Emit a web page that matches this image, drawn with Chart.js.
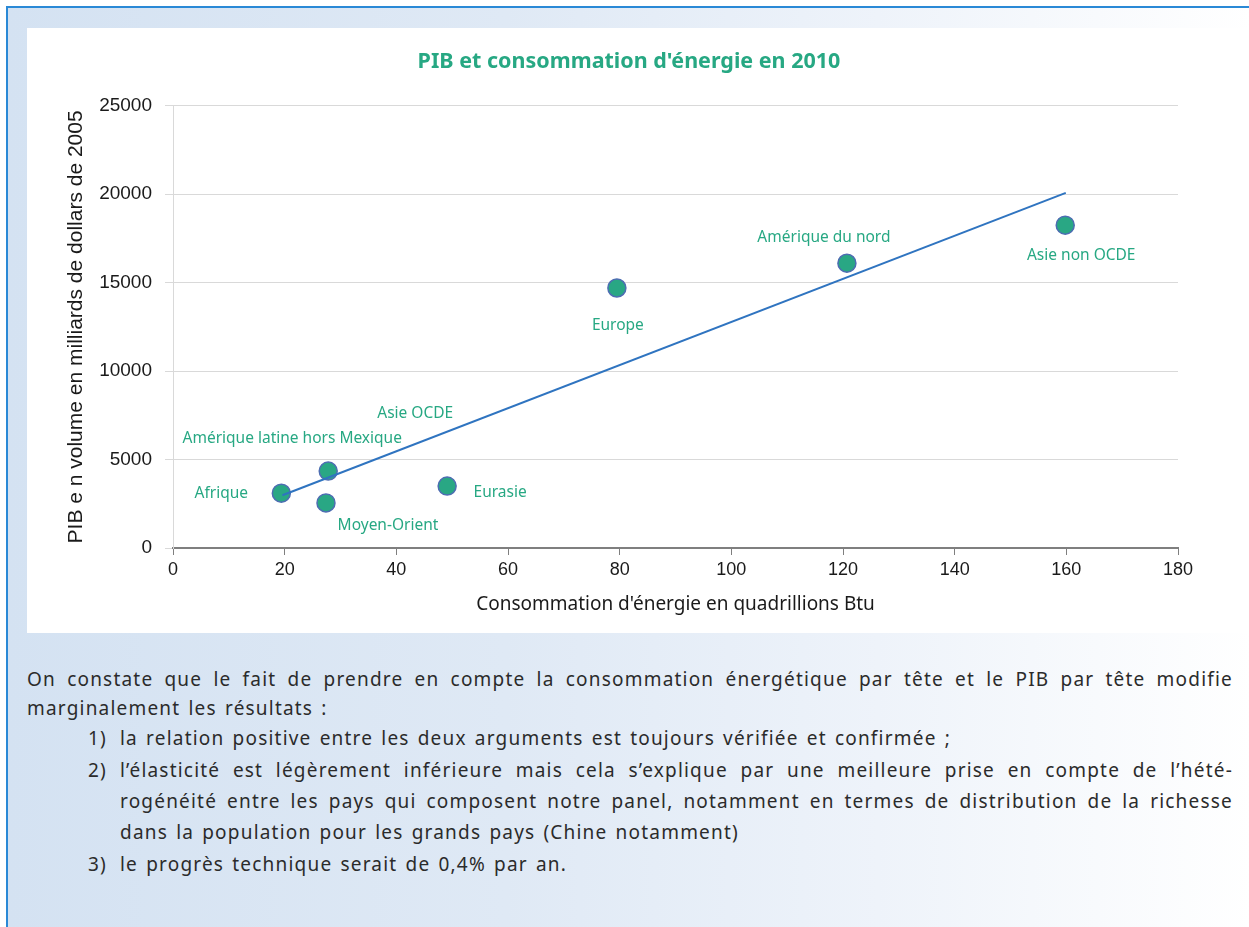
<!DOCTYPE html>
<html>
<head>
<meta charset="utf-8">
<script src="https://cdn.jsdelivr.net/npm/chart.js@4.4.0/dist/chart.umd.min.js"></script>
<style>
  html, body { margin: 0; padding: 0; background: #fff; width: 1249px; height: 927px; overflow: hidden; }
  #frame {
    position: absolute; left: 6px; top: 6px; width: 1243px; height: 921px;
    border-left: 2px solid #2a89d6; border-top: 2px solid #2a89d6;
    background: linear-gradient(to right, #d4e2f2 0%, #dfe9f5 40%, #eef3fa 70%, #ffffff 100%);
  }
  #chartBox { position: absolute; left: 27px; top: 28px; width: 1222px; height: 605px; background: #fff; }
  .txt { position: absolute; font-family: "Noto Sans", sans-serif; font-size: 19px; letter-spacing: 1.2px; word-spacing: 2px; color: #2b2b2b; line-height: 31px; white-space: nowrap; }
  .just { text-align: justify; text-align-last: justify; }
</style>
</head>
<body>
<div id="frame"></div>
<div id="chartBox"><canvas id="gdp-chart"></canvas></div>

<div class="txt just" style="left:27px; top:664px; width:1206px;">On constate que le fait de prendre en compte la consommation énergétique par tête et le PIB par tête modifie</div>
<div class="txt" style="left:27px; top:693px;">marginalement les résultats :</div>
<div class="txt" style="left:88px; top:723px;">1)</div>
<div class="txt" style="left:120px; top:723px;">la relation positive entre les deux arguments est toujours vérifiée et confirmée ;</div>
<div class="txt" style="left:88px; top:755px;">2)</div>
<div class="txt just" style="left:120px; top:755px; width:1113px;">l’élasticité est légèrement inférieure mais cela s’explique par une meilleure prise en compte de l’hété-</div>
<div class="txt just" style="left:120px; top:786px; width:1113px;">rogénéité entre les pays qui composent notre panel, notamment en termes de distribution de la richesse</div>
<div class="txt" style="left:120px; top:817px;">dans la population pour les grands pays (Chine notamment)</div>
<div class="txt" style="left:88px; top:849px;">3)</div>
<div class="txt" style="left:120px; top:849px;">le progrès technique serait de 0,4% par an.</div>

<script>
// données
const regions = ['Afrique', 'Amérique latine hors Mexique', 'Moyen-Orient', 'Eurasie', 'Europe', 'Amérique du nord', 'Asie non OCDE'];
const energy = [19.4, 27.8, 27.4, 49.1, 79.5, 120.7, 159.8];
const gdp = [3100, 4350, 2550, 3500, 14700, 16100, 18250];

// droite de tendance (extrémités lues)
const trendEnergy = [19.6, 159.9];
const trendGdp = [2980, 20080];

// axes
const xMin = 0, xMax = 180, xStep = 20;
const yMin = 0, yMax = 25000, yStep = 5000;

// placement des étiquettes autour des points (px)
const labelOffsets = [[-60, 0], [-36, -32], [62, 23], [53, 6], [1, 38], [-23, -26], [16, 30]];
// étiquette sans point visible, placée par rapport au point 1
const extraLabels = [{ text: 'Asie OCDE', anchor: 1, dx: 87, dy: -57 }];

const green = '#27a883';

const pointLabels = {
    id: 'pointLabels',
    afterDatasetsDraw(chart) {
        const ctx = chart.ctx;
        const meta = chart.getDatasetMeta(1);
        ctx.save();
        ctx.font = '15.5px "Noto Sans", sans-serif';
        ctx.fillStyle = green;
        ctx.textAlign = 'center';
        ctx.textBaseline = 'middle';
        regions.forEach((name, i) => {
            const pt = meta.data[i];
            ctx.fillText(name, pt.x + labelOffsets[i][0], pt.y + labelOffsets[i][1]);
        });
        extraLabels.forEach(l => {
            const pt = meta.data[l.anchor];
            ctx.fillText(l.text, pt.x + l.dx, pt.y + l.dy);
        });
        ctx.restore();
    }
};

const ctx = document.getElementById('gdp-chart').getContext('2d');
const gdpChart = new Chart(ctx, {
    type: 'scatter',
    data: {
        datasets: [{
            label: 'Tendance',
            type: 'line',
            data: trendEnergy.map((x, i) => ({ x: x, y: trendGdp[i] })),
            borderColor: '#2f74c0',
            borderWidth: 2,
            pointRadius: 0,
            fill: false,
            order: 0,
        }, {
            label: 'Régions',
            data: energy.map((x, i) => ({ x: x, y: gdp[i] })),
            backgroundColor: '#29a784',
            borderColor: '#4d6db2',
            borderWidth: 1.5,
            pointRadius: 9,
            order: 1,
        }]
    },
    options: {
        responsive: true,
        maintainAspectRatio: false,
        animation: false,
        layout: { padding: { left: 37, right: 55, top: 0, bottom: 0 } },
        plugins: {
            legend: { display: false },
            tooltip: { enabled: false },
            title: {
                display: true,
                text: "PIB et consommation d'énergie en 2010",
                color: green,
                font: { family: 'Noto Sans', size: 21.5, weight: 'bold' },
                padding: { top: 21, bottom: 31 },
            }
        },
        scales: {
            x: {
                type: 'linear',
                min: xMin,
                max: xMax,
                ticks: {
                    stepSize: xStep,
                    color: '#1a1a1a',
                    font: { family: 'Liberation Sans', size: 18 },
                    padding: 4,
                },
                grid: { color: 'transparent', tickColor: '#7f7f7f', tickLength: 7, drawOnChartArea: false },
                border: { color: '#7f7f7f', width: 2 },
                title: {
                    display: true,
                    text: "Consommation d'énergie en quadrillions Btu",
                    color: '#1a1a1a',
                    font: { family: 'Noto Sans', size: 19 },
                    padding: { top: 4, bottom: 17 },
                },
                afterFit: (scale) => { scale.height = 85; },
            },
            y: {
                type: 'linear',
                min: yMin,
                max: yMax,
                ticks: {
                    stepSize: yStep,
                    color: '#1a1a1a',
                    font: { family: 'Liberation Sans', size: 19 },
                    padding: 13,
                    callback: (v) => String(v),
                },
                grid: { color: '#d9d9d9', tickColor: '#d9d9d9', tickLength: 8 },
                border: { color: '#d9d9d9', width: 1 },
                title: {
                    display: true,
                    text: 'PIB e n volume en milliards de dollars de 2005',
                    color: '#1a1a1a',
                    font: { family: 'Liberation Sans', size: 21 },
                    padding: { top: 0, bottom: 0 },
                },
                afterFit: (scale) => { scale.width = 109; },
            },
            yRight: {
                type: 'linear',
                position: 'right',
                display: true,
                grid: { display: false },
                ticks: { display: false },
                border: { display: false },
                afterFit: (scale) => { scale.width = 16; },
            }
        }
    },
    plugins: [pointLabels]
});
</script>
</body>
</html>
